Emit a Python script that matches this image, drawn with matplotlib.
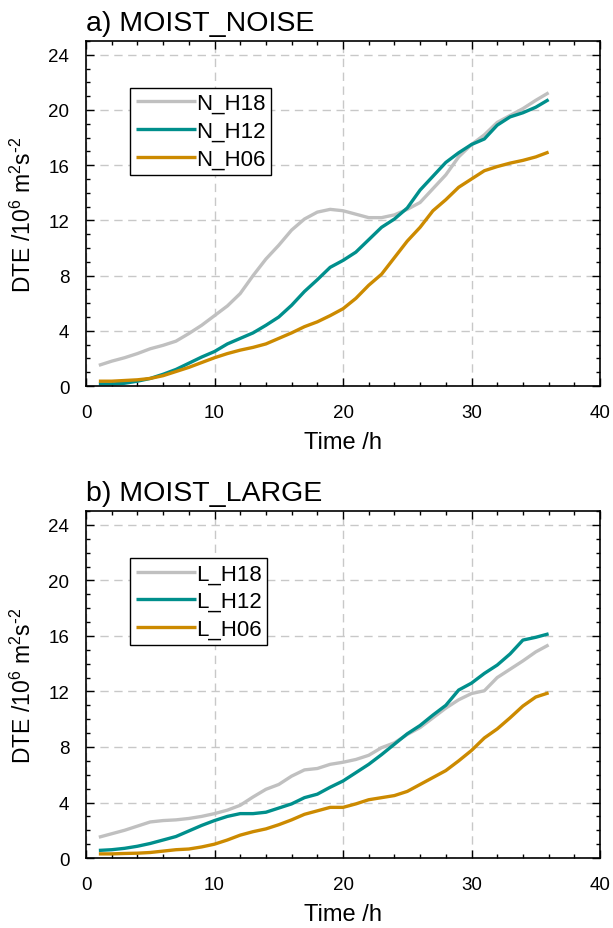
import matplotlib
matplotlib.use("Agg")
import matplotlib.pyplot as plt
from matplotlib.ticker import MultipleLocator

plt.rcParams["font.family"] = ["Liberation Sans", "DejaVu Sans"]
plt.rcParams["mathtext.default"] = "regular"

hours = list(range(1, 37))

# panel a) MOIST_NOISE
n_h18 = [1.5, 1.8, 2.05, 2.35, 2.7, 2.95, 3.25, 3.8, 4.4, 5.1, 5.8, 6.7,
         8.0, 9.2, 10.2, 11.3, 12.1, 12.6, 12.8, 12.7, 12.45, 12.2, 12.2, 12.4,
         12.8, 13.3, 14.3, 15.3, 16.6, 17.5, 18.2, 19.1, 19.6, 20.1, 20.7, 21.25]
n_h12 = [0.15, 0.15, 0.2, 0.35, 0.55, 0.85, 1.2, 1.65, 2.1, 2.5, 3.05, 3.45,
         3.85, 4.4, 5.0, 5.85, 6.85, 7.7, 8.6, 9.1, 9.7, 10.6, 11.5, 12.1,
         12.9, 14.2, 15.2, 16.2, 16.9, 17.5, 17.9, 18.9, 19.5, 19.8, 20.2, 20.75]
n_h06 = [0.35, 0.35, 0.4, 0.45, 0.55, 0.75, 1.05, 1.35, 1.7, 2.05, 2.35, 2.6,
         2.8, 3.05, 3.45, 3.85, 4.3, 4.65, 5.1, 5.6, 6.35, 7.3, 8.1, 9.3,
         10.5, 11.5, 12.7, 13.5, 14.4, 15.0, 15.6, 15.9, 16.15, 16.35, 16.6, 16.95]

# panel b) MOIST_LARGE
l_h18 = [1.5, 1.75, 2.0, 2.3, 2.6, 2.7, 2.75, 2.85, 3.0, 3.2, 3.45, 3.8,
         4.4, 4.95, 5.3, 5.9, 6.35, 6.45, 6.75, 6.9, 7.1, 7.4, 7.95, 8.3,
         8.9, 9.4, 10.1, 10.8, 11.4, 11.85, 12.05, 13.0, 13.6, 14.2, 14.85, 15.35]
l_h12 = [0.55, 0.6, 0.7, 0.85, 1.05, 1.3, 1.55, 1.95, 2.35, 2.7, 3.0, 3.2,
         3.2, 3.3, 3.6, 3.9, 4.35, 4.6, 5.1, 5.55, 6.15, 6.75, 7.45, 8.2,
         8.95, 9.55, 10.3, 11.0, 12.1, 12.6, 13.3, 13.9, 14.7, 15.7, 15.9, 16.15]
l_h06 = [0.3, 0.3, 0.33, 0.35, 0.4, 0.5, 0.6, 0.65, 0.8, 1.0, 1.3, 1.65,
         1.9, 2.1, 2.4, 2.75, 3.15, 3.4, 3.65, 3.65, 3.9, 4.2, 4.35, 4.5,
         4.8, 5.3, 5.8, 6.3, 7.0, 7.75, 8.65, 9.3, 10.1, 10.95, 11.6, 11.9]

colors = ["#c0c0c0", "#008f8c", "#cc8a00"]

panels = [
    ("a) MOIST_NOISE", ["N_H18", "N_H12", "N_H06"], [n_h18, n_h12, n_h06],
     [0.1403, 0.5834, 0.8385, 0.3714]),
    ("b) MOIST_LARGE", ["L_H18", "L_H12", "L_H06"], [l_h18, l_h12, l_h06],
     [0.1403, 0.0753, 0.8385, 0.3736]),
]

fig = plt.figure(figsize=(6.13, 9.29), dpi=100)

for title, names, series, rect in panels:
    ax = fig.add_axes(rect)
    for name, vals, c in zip(names, series, colors):
        ax.plot(hours, vals, color=c, lw=2.4, label=name, solid_capstyle="butt")

    ax.set_xlim(0, 40)
    ax.set_ylim(0, 25)
    ax.xaxis.set_major_locator(MultipleLocator(10))
    ax.xaxis.set_minor_locator(MultipleLocator(2))
    ax.yaxis.set_major_locator(MultipleLocator(4))
    ax.yaxis.set_minor_locator(MultipleLocator(1))
    ax.tick_params(which="both", direction="in", top=True, right=True,
                   width=1, labelsize=13.5)
    ax.tick_params(axis="x", pad=13)
    ax.tick_params(axis="y", pad=12)
    ax.tick_params(which="major", length=6)
    ax.tick_params(which="minor", length=3)
    ax.grid(True, which="major", color="#c8c8c8", ls=(0, (6, 4)), lw=1)
    for s in ax.spines.values():
        s.set_linewidth(1.2)

    ax.set_xlabel("Time /h", fontsize=17, labelpad=7)
    ax.set_ylabel(r"DTE /10$^6$ m$^2$s$^{\text{-}2}$", fontsize=16.5, labelpad=9)
    ax.set_title(title, loc="left", fontsize=20.5, pad=8)

    leg = ax.legend(loc="upper left", bbox_to_anchor=(0.086, 0.865),
                    fontsize=16, handlelength=2.7, handletextpad=0.0,
                    labelspacing=0.3, borderpad=0.25, borderaxespad=0,
                    fancybox=False, framealpha=1)
    leg.get_frame().set_edgecolor("black")
    leg.get_frame().set_linewidth(1)

fig.savefig("out.png", dpi=100)
